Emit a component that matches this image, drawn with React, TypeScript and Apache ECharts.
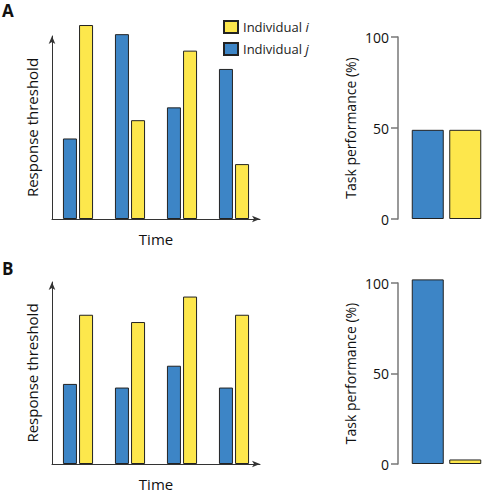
import React, { useEffect, useRef } from "react";
import * as echarts from "echarts";

const timeSteps = ["t1", "t2", "t3", "t4"];
const thresholdA_j = [44, 101, 61, 82];
const thresholdA_i = [106, 54, 92, 30];
const thresholdB_j = [44, 42, 54, 42];
const thresholdB_i = [82, 78, 92, 82];
const perfCategories = ["Individual j", "Individual i"];
const perfA_j = [49];
const perfA_i = [49];
const perfB_j = [102];
const perfB_i = [2.5];
const perfTicks = [0, 50, 100];

const BLUE = "#3d85c6";
const YELLOW = "#fde74c";
const FONT = "Open Sans";

export default function App() {
  const ref = useRef<HTMLDivElement>(null);
  useEffect(() => {
    const chart = echarts.init(ref.current!, null, { renderer: "svg" });
    const leftGrid = (top: number) => ({ left: 52, top, width: 208, height: 183 });
    const rightGrid = (top: number, h: number) => ({ left: 409, top, width: 75, height: h });
    const thrX = (gi: number) => ({
      type: "category",
      gridIndex: gi,
      data: timeSteps,
      boundaryGap: true,
      name: "Time",
      nameLocation: "middle",
      nameGap: 12,
      nameTextStyle: { fontFamily: FONT, fontSize: 15, color: "#111" },
      axisLine: { show: true, lineStyle: { color: "#333", width: 1 }, symbol: ["none", "arrow"], symbolSize: [5, 8] },
      axisTick: { show: false },
      axisLabel: { show: false },
    });
    const thrY = (gi: number) => ({
      type: "value",
      gridIndex: gi,
      min: 0,
      max: 100,
      name: "Response threshold",
      nameLocation: "middle",
      nameGap: 13,
      nameTextStyle: { fontFamily: FONT, fontSize: 15, color: "#111" },
      axisLine: { show: true, lineStyle: { color: "#333", width: 1 }, symbol: ["none", "arrow"], symbolSize: [5, 8] },
      axisTick: { show: false },
      axisLabel: { show: false },
      splitLine: { show: false },
    });
    const perfX = (gi: number) => ({
      type: "category",
      gridIndex: gi,
      data: perfCategories,
      show: false,
    });
    const perfY = (gi: number) => ({
      type: "value",
      gridIndex: gi,
      offset: 11,
      min: perfTicks[0],
      max: perfTicks[perfTicks.length - 1],
      interval: 50,
      name: "Task performance (%)",
      nameLocation: "middle",
      nameGap: 41,
      nameTextStyle: { fontFamily: FONT, fontSize: 14, color: "#111" },
      axisLine: { show: true, lineStyle: { color: "#777", width: 1.5 } },
      axisTick: { show: true, length: 7, lineStyle: { color: "#777", width: 1.5 } },
      axisLabel: { fontFamily: FONT, fontSize: 14, color: "#111", margin: 9 },
      splitLine: { show: false },
    });
    const bar = (name: string, data: any[], gi: number, color: string, w: number, gap: string, stack?: string) => ({
      type: "bar",
      name,
      xAxisIndex: gi,
      yAxisIndex: gi,
      data,
      barWidth: w,
      barGap: gap,
      stack,
      clip: false,
      itemStyle: { color, borderColor: "#222", borderWidth: 1 },
    });
    chart.setOption({
      animation: false,
      grid: [leftGrid(36), rightGrid(37, 182), leftGrid(282), rightGrid(283, 181)],
      xAxis: [thrX(0), perfX(1), thrX(2), perfX(3)],
      yAxis: [thrY(0), perfY(1), thrY(2), perfY(3)],
      legend: {
        left: 218,
        top: 15,
        orient: "vertical",
        itemWidth: 14,
        itemHeight: 12,
        itemGap: 8,
        icon: "rect",
        data: ["Individual i", "Individual j"],
        formatter: (n: string) => n.replace(/ (i|j)$/, " {it|$1}"),
        textStyle: {
          fontFamily: FONT,
          fontSize: 13,
          color: "#222",
          rich: { it: { fontFamily: FONT, fontSize: 13, fontStyle: "italic", color: "#222" } },
        },
      },
      graphic: [
        { type: "text", left: 2, top: 2, style: { text: "A", fontFamily: FONT, fontSize: 17, fontWeight: "bold", fill: "#111" } },
        { type: "text", left: 2, top: 260, style: { text: "B", fontFamily: FONT, fontSize: 17, fontWeight: "bold", fill: "#111" } },
      ],
      series: [
        bar("Individual j", thresholdA_j, 0, BLUE, 14, "15%"),
        bar("Individual i", thresholdA_i, 0, YELLOW, 14, "15%"),
        bar("Individual j", [perfA_j[0], "-"], 1, BLUE, 32, "0%", "pa"),
        bar("Individual i", ["-", perfA_i[0]], 1, YELLOW, 33, "0%", "pa"),
        bar("Individual j", thresholdB_j, 2, BLUE, 14, "15%"),
        bar("Individual i", thresholdB_i, 2, YELLOW, 14, "15%"),
        bar("Individual j", [perfB_j[0], "-"], 3, BLUE, 32, "0%", "pb"),
        bar("Individual i", ["-", perfB_i[0]], 3, YELLOW, 33, "0%", "pb"),
      ],
    });
    return () => chart.dispose();
  }, []);
  return <div ref={ref} style={{ position: "fixed", left: 0, top: 0, width: 490, height: 492, background: "#fff" }} />;
}
